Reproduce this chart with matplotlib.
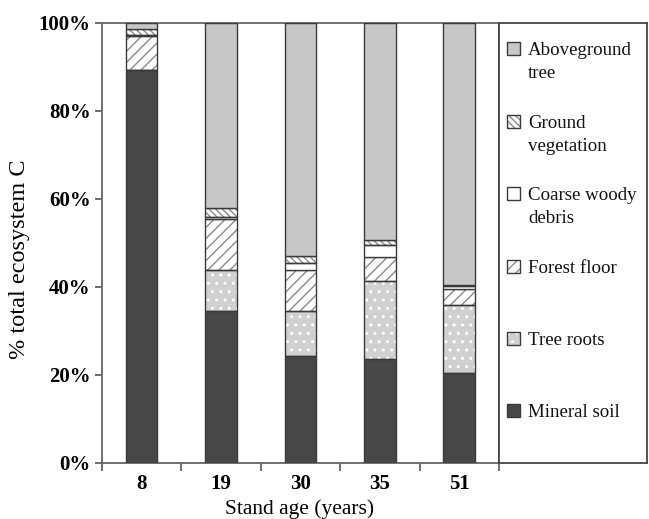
import matplotlib
matplotlib.use("Agg")
import matplotlib.pyplot as plt
import numpy as np
from matplotlib.patches import Rectangle

plt.rcParams['font.family'] = ['Liberation Serif', 'DejaVu Serif']
plt.rcParams['hatch.linewidth'] = 1.0

ages = ["8", "19", "30", "35", "51"]
mineral_soil = [89.2, 34.5, 24.3, 23.7, 20.4]
tree_roots = [0.0, 9.4, 10.3, 17.7, 15.4]
forest_floor = [7.8, 11.5, 9.3, 5.3, 3.8]
coarse_woody = [0.3, 0.4, 1.5, 2.8, 0.5]
ground_veg = [1.3, 2.2, 1.6, 1.2, 0.3]
aboveground = [1.4, 42.0, 53.0, 49.3, 59.6]

series = [
    ("Mineral soil", mineral_soil, dict(face="#474747", hatch=None, hc=None)),
    ("Tree roots", tree_roots, dict(face="#d0d0d0", hatch="..", hc="white")),
    ("Forest floor", forest_floor, dict(face="white", hatch="///", hc="#8a8a8a")),
    ("Coarse woody\ndebris", coarse_woody, dict(face="white", hatch=None, hc=None)),
    ("Ground\nvegetation", ground_veg, dict(face="white", hatch="\\\\\\\\\\", hc="#8a8a8a")),
    ("Aboveground\ntree", aboveground, dict(face="#c8c8c8", hatch=None, hc=None)),
]

FW, FH = 649.0, 519.0
fig = plt.figure(figsize=(6.49, 5.19), dpi=100)
ax = fig.add_axes([0.157, 0.108, 0.612, 0.848])
lax = fig.add_axes([0.769, 0.108, 0.228, 0.848])

x = np.arange(len(ages))
bottom = np.zeros(len(ages))
edge = "#3a3a3a"
width = 0.4
for label, vals, st in series:
    vals = np.array(vals)
    if st["hatch"]:
        ax.bar(x, vals, width, bottom=bottom, color=st["face"], edgecolor=st["hc"],
               hatch=st["hatch"], linewidth=0, zorder=2)
        ax.bar(x, vals, width, bottom=bottom, fill=False, edgecolor=edge,
               linewidth=1.0, zorder=3)
    else:
        ax.bar(x, vals, width, bottom=bottom, color=st["face"], edgecolor=edge,
               linewidth=1.0, zorder=3)
    bottom += vals

ax.set_xlim(-0.5, len(ages) - 0.5)
ax.set_ylim(0, 100)
ax.set_yticks(np.arange(0, 101, 20))
ax.set_yticklabels([f"{v}%" for v in range(0, 101, 20)], fontsize=15, fontweight='bold')
ax.set_xticks(x)
ax.set_xticklabels(ages, fontsize=15, fontweight='bold')
ax.tick_params(axis='x', length=0, pad=8)
ax.set_xticks(np.arange(-0.5, len(ages), 1.0), minor=True)
ax.tick_params(axis='x', which='minor', length=6, direction='out', color='#555555', width=1.2)
ax.tick_params(axis='y', length=5, direction='out', color='#555555', width=1.2, pad=3)
for s in ax.spines.values():
    s.set_color('#666666')
    s.set_linewidth(1.3)

fig.text(20 / FW, 1 - 259 / FH, "% total ecosystem C", rotation=90, fontsize=17.5,
         ha='center', va='center')
fig.text(300 / FW, 1 - 509 / FH, "Stand age (years)", fontsize=15.5,
         ha='center', va='center')

# legend panel
lax.set_xticks([])
lax.set_yticks([])
lax.set_xlim(0, 1)
lax.set_ylim(0, 1)
for s in lax.spines.values():
    s.set_color('#444444')
    s.set_linewidth(1.3)

H = 440.0
W = 148.0
sq = 13.0
for i, (label, vals, st) in enumerate(series[::-1]):
    yc = 1 - (26 + i * 72.4) / H
    rx, ry = 8 / W, yc - sq / 2 / H
    if st["hatch"]:
        lax.add_patch(Rectangle((rx, ry), sq / W, sq / H, facecolor=st["face"],
                                edgecolor=st["hc"], hatch=st["hatch"], linewidth=0))
        lax.add_patch(Rectangle((rx, ry), sq / W, sq / H, fill=False,
                                edgecolor=edge, linewidth=1.0))
    else:
        lax.add_patch(Rectangle((rx, ry), sq / W, sq / H, facecolor=st["face"],
                                edgecolor=edge, linewidth=1.0))
    for j, line in enumerate(label.split("\n")):
        lax.text(29 / W, yc - (6.5 + j * 23) / H, line, fontsize=13.6, va='baseline',
                 ha='left', color='#111111')

fig.savefig("out.png", dpi=100)
